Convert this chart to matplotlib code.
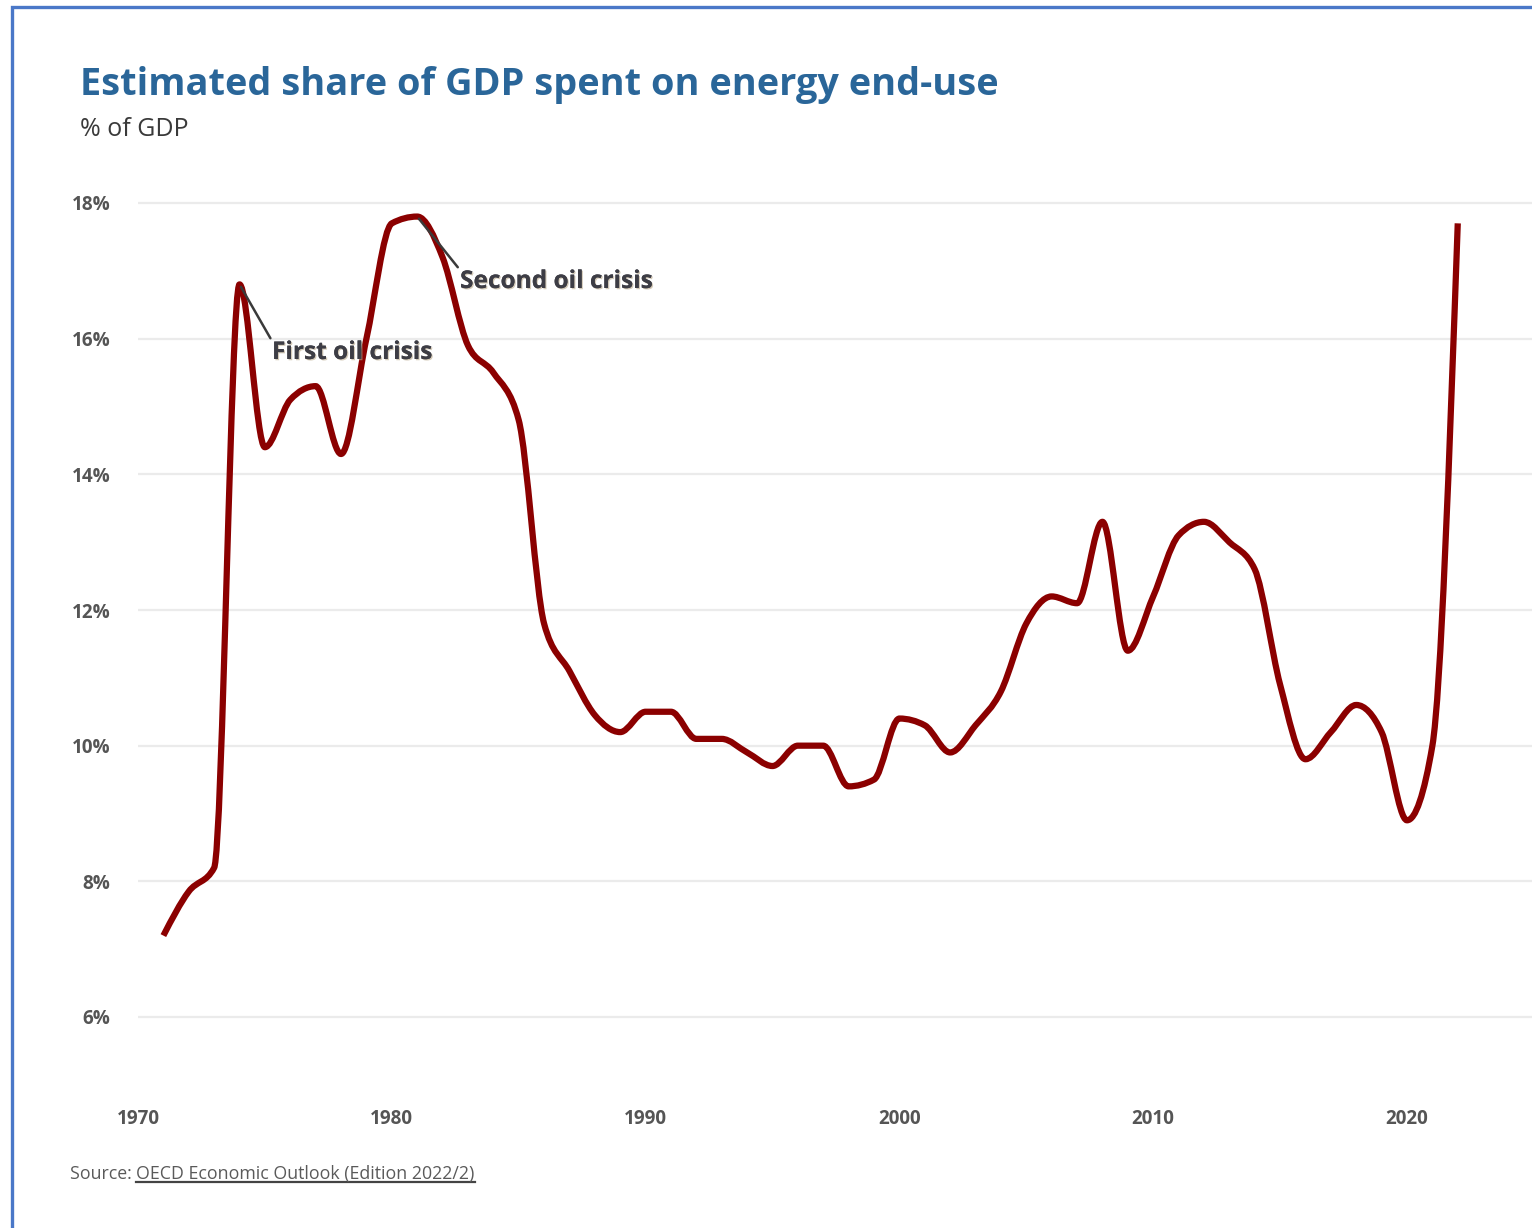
import numpy as np
import matplotlib
matplotlib.use("Agg")
import matplotlib.pyplot as plt
from matplotlib.path import Path
from matplotlib.patches import PathPatch, Rectangle
import matplotlib.patheffects as pe

# Annual estimates, % of GDP spent on energy end-use
years = list(range(1971, 2023))
share = [
    7.2, 7.85, 8.2, 16.8, 14.4, 15.1, 15.3, 14.3, 16.0, 17.7,   # 1971-1980
    17.8, 17.2, 15.9, 15.5, 14.8, 11.8, 11.1, 10.45, 10.2, 10.5,  # 1981-1990
    10.5, 10.1, 10.1, 9.9, 9.7, 10.0, 10.0, 9.4, 9.5, 10.4,       # 1991-2000
    10.3, 9.9, 10.3, 10.8, 11.8, 12.2, 12.1, 13.3, 11.4, 12.2,    # 2001-2010
    13.1, 13.3, 13.0, 12.6, 10.9, 9.8, 10.2, 10.6, 10.2, 8.9,     # 2011-2020
    10.0, 17.7,                                                   # 2021-2022
]
y_ticks = [6, 8, 10, 12, 14, 16, 18]
x_ticks = [1970, 1980, 1990, 2000, 2010, 2020]

title = "Estimated share of GDP spent on energy end-use"
subtitle = "% of GDP"
source_prefix = "Source: "
source_link = "OECD Economic Outlook (Edition 2022/2)"
annotations = [("First oil crisis", 1974), ("Second oil crisis", 1981)]

W, H, DPI = 1532, 1228, 100
fig = plt.figure(figsize=(W / DPI, H / DPI), dpi=DPI)
fig.patch.set_facecolor("white")


def px_box(left, top, right, bottom):
    return [left / W, 1 - bottom / H, (right - left) / W, (bottom - top) / H]


# plot area: 1970 sits at x=138, 18% at y=203, 6% at y=1017
x_left, x_right = 138, 1532
y_top, y_bot = 190, 1090
ax = fig.add_axes(px_box(x_left, y_top, x_right, y_bot))
ppy = (1407 - 138) / 50.0          # pixels per year
ppv = (1017 - 203) / 12.0          # pixels per percentage point
ax.set_xlim(1970, 1970 + (x_right - x_left) / ppy)
ax.set_ylim(6 - (y_bot - 1017) / ppv, 18 + (203 - y_top) / ppv)

for s in ax.spines.values():
    s.set_visible(False)
ax.set_yticks(y_ticks)
ax.set_yticklabels([f"{v}%" for v in y_ticks])
ax.set_xticks(x_ticks)
ax.set_xticklabels([str(v) for v in x_ticks])
ax.tick_params(axis="both", length=0, labelcolor="#555555")
ax.tick_params(axis="y", pad=20)
ax.tick_params(axis="x", pad=14)
for lab in ax.get_xticklabels() + ax.get_yticklabels():
    lab.set_fontfamily("Open Sans")
    lab.set_fontweight("bold")
    lab.set_fontsize(13.6)
ax.grid(axis="y", color="#ebebeb", linewidth=1.6)
ax.set_axisbelow(True)


# monotone cubic curve through the annual points (flat runs stay flat)
def monotone_path(xs, ys):
    xs = np.asarray(xs, float)
    ys = np.asarray(ys, float)
    n = len(xs)
    h = np.diff(xs)
    s = np.diff(ys) / h
    t = np.zeros(n)
    for i in range(1, n - 1):
        p = (s[i - 1] * h[i] + s[i] * h[i - 1]) / (h[i - 1] + h[i])
        t[i] = (np.sign(s[i - 1]) + np.sign(s[i])) * min(abs(s[i - 1]), abs(s[i]), 0.5 * abs(p))
    t[0] = (3 * s[0] - t[1]) / 2
    t[-1] = (3 * s[-1] - t[-2]) / 2
    verts = [(xs[0], ys[0])]
    codes = [Path.MOVETO]
    for i in range(n - 1):
        d = h[i] / 3
        verts += [(xs[i] + d, ys[i] + t[i] * d),
                  (xs[i + 1] - d, ys[i + 1] - t[i + 1] * d),
                  (xs[i + 1], ys[i + 1])]
        codes += [Path.CURVE4] * 3
    return Path(verts, codes)


ax.add_patch(PathPatch(monotone_path(years, share), facecolor="none",
                       edgecolor="#8b0000", linewidth=4.5,
                       capstyle="butt", joinstyle="round", zorder=3))

# crisis labels with leader lines from the peaks
shadow = [pe.withSimplePatchShadow(offset=(0.9, -0.9), shadow_rgbFace="#b8a88a", alpha=0.6),
          pe.Normal()]
label_pos = {"First oil crisis": (272, 353), "Second oil crisis": (460, 282)}
for text, yr in annotations:
    val = share[years.index(yr)]
    lx, ly = label_pos[text]
    tx = 1970 + (lx - x_left) / ppy
    ty = 18 - (ly - 203) / ppv
    ax.annotate(text, xy=(yr, val), xytext=(tx, ty),
                ha="left", va="center", fontsize=17.6, fontweight="bold",
                family="Open Sans", color="#3d3d45", zorder=4,
                arrowprops=dict(arrowstyle="-", color="#3a3a3a", lw=1.8,
                                shrinkA=0, shrinkB=2,
                                relpos=(0.0, 1.0)),
                path_effects=shadow)

# title block
fig.text(80 / W, 1 - 85 / H, title, ha="left", va="center",
         fontsize=27.3, fontweight="bold", family="Open Sans", color="#2a6699")
fig.text(80 / W, 1 - 130 / H, subtitle, ha="left", va="center",
         fontsize=18, family="Open Sans", color="#3a3a3a")

# source line with underlined link text
src1 = fig.text(70 / W, 1 - 1174 / H, source_prefix, ha="left", va="center",
                fontsize=12.8, family="Open Sans", color="#5a5a5a")
fig.canvas.draw()
r = fig.canvas.get_renderer()
bb = src1.get_window_extent(r)
src2 = fig.text(bb.x1 / W, 1 - 1174 / H, source_link, ha="left", va="center",
                fontsize=12.8, family="Open Sans", color="#5a5a5a")
bb2 = src2.get_window_extent(r)
fig.add_artist(plt.Line2D([bb2.x0 / W, bb2.x1 / W],
                          [(bb2.y0 + 1) / H, (bb2.y0 + 1) / H],
                          transform=fig.transFigure, color="#444444", lw=1.6))

# frame around the whole figure
fig.add_artist(Rectangle((12 / W, -0.05), 1.05, 1 - 7 / H + 0.05,
                         transform=fig.transFigure, fill=False,
                         edgecolor="#4a78c8", linewidth=2.4))

fig.savefig("out.png", dpi=DPI, facecolor="white")
